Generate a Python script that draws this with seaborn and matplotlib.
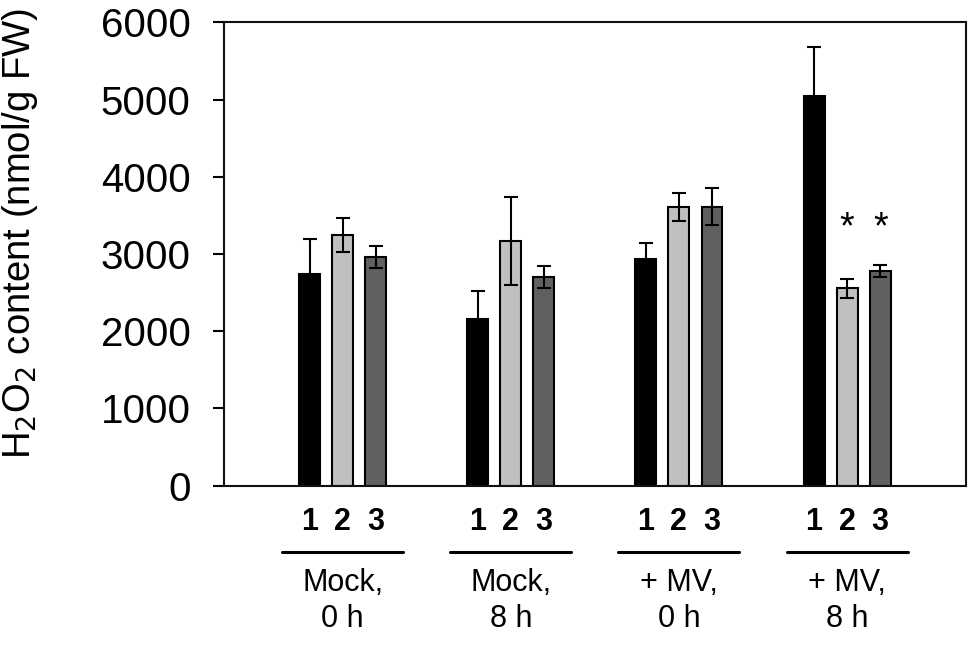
import pandas as pd
import seaborn as sns
import matplotlib.pyplot as plt
import matplotlib.transforms as mtransforms

# Data
groups = ['Mock,\n0 h', 'Mock,\n8 h', '+ MV,\n0 h', '+ MV,\n8 h']
lines = ['1', '2', '3']
line1_mean = [2740, 2155, 2940, 5050]
line2_mean = [3245, 3165, 3610, 2555]
line3_mean = [2960, 2700, 3610, 2780]
line1_err = [460, 360, 200, 625]
line2_err = [225, 570, 180, 120]
line3_err = [140, 145, 240, 75]
# significance marks: (group index, line index)
stars = [(3, 1), (3, 2)]
star_y = 3330

rows = []
for gi, g in enumerate(groups):
    for li, (m, e) in enumerate(zip([line1_mean, line2_mean, line3_mean],
                                    [line1_err, line2_err, line3_err])):
        rows.append({'group': g, 'line': lines[li], 'value': m[gi], 'err': e[gi]})
df = pd.DataFrame(rows)

sns.set_style('ticks', {'text.color': 'black', 'axes.labelcolor': 'black',
                        'xtick.color': 'black', 'ytick.color': 'black',
                        'axes.edgecolor': '#111111'})
plt.rcParams['font.family'] = ['Liberation Sans', 'DejaVu Sans']

fig = plt.figure(figsize=(9.77, 6.51), dpi=100)
ax = fig.add_axes([0.2293, 0.2539, 0.7591, 0.7118])

sns.barplot(data=df, x='group', y='value', hue='line',
            palette=['#000000', '#c0c0c0', '#606060'],
            width=0.59, gap=0.366, edgecolor='black', linewidth=1.5,
            errorbar=None, legend=False, ax=ax)

# bar centres, sorted left to right -> group-major, line-minor
bars = sorted(ax.patches, key=lambda p: p.get_x())
xc = [p.get_x() + p.get_width() / 2 for p in bars]
heights = [p.get_height() for p in bars]
errs = list(df['err'])

ax.errorbar(xc, heights, yerr=errs, fmt='none', ecolor='black',
            elinewidth=1.5, capsize=5, capthick=1.5, zorder=5)

for gi, li in stars:
    ax.text(xc[gi * 3 + li], star_y, '*', ha='center', va='center',
            fontsize=27, color='black')

ax.set_ylim(0, 6000)
ax.set_yticks(range(0, 6001, 1000))
ax.set_xlim(-0.705, 3.705)
ax.set_xticks(xc)
ax.set_xticklabels(lines * len(groups), fontsize=22, fontweight='bold')
ax.tick_params(axis='x', length=0, pad=15)
ax.tick_params(axis='y', direction='out', length=8, width=1.5, pad=16,
               labelsize=29)
ax.set_xlabel('')
ax.set_ylabel('H$_2$O$_2$ content (nmol/g FW)', fontsize=27.5)
ax.yaxis.set_label_coords(-0.248, 0.545)

for s in ax.spines.values():
    s.set_visible(True)
    s.set_linewidth(1.5)

# group underline and condition labels below the numbers
trans = mtransforms.blended_transform_factory(ax.transData, ax.transAxes)
for gi, g in enumerate(groups):
    ax.plot([gi - 0.36, gi + 0.36], [-0.142, -0.142], color='black',
            lw=2.2, transform=trans, clip_on=False)
    ax.text(gi, -0.178, g, ha='center', va='top', fontsize=22,
            linespacing=1.25, transform=trans)

fig.savefig('out.png', dpi=100)
